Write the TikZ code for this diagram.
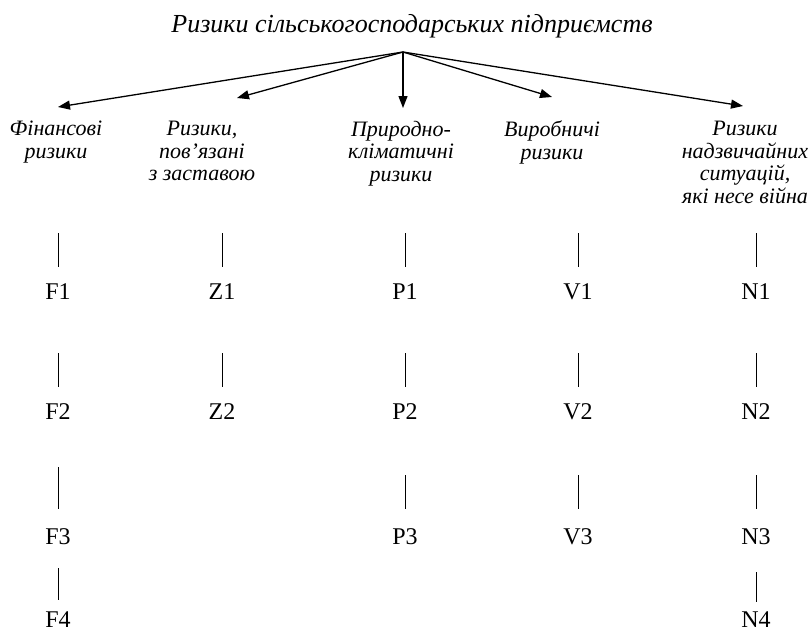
\documentclass[tikz,border=0pt]{standalone}
\usepackage{fontspec}
\setmainfont{Liberation Serif}
\usetikzlibrary{arrows.meta}
\begin{document}
\begin{tikzpicture}[x=1pt,y=-1pt,
  heading/.style={font=\fontsize{26}{30}\selectfont\itshape, inner sep=0pt},
  category/.style={font=\fontsize{22}{22.5}\selectfont\itshape, align=center, inner sep=0pt, anchor=north},
  code/.style={font=\fontsize{24}{26}\selectfont, inner sep=0pt},
  branch/.style={line width=1.3pt, -{Triangle[length=12pt,width=9pt]}},
  stem/.style={line width=1pt}]
\useasboundingbox (0,0) rectangle (812,633);

% heading and the point where the branches start
\node[heading, anchor=base] (title) at (412,32) {Ризики сільськогосподарських підприємств};
\coordinate (root) at (403,52);

% arrow tips above the groups
\coordinate (tF) at (58,107);
\coordinate (tZ) at (237,98);
\coordinate (tP) at (403,108);
\coordinate (tV) at (552,97);
\coordinate (tN) at (743,106);
\foreach \t in {tF,tZ,tP,tV,tN} \draw[branch] (root) -- (\t);

% risk groups
\node[category] (cF) at (56,121) {Фінансові\\ризики};
\node[category] (cZ) at (202,121) {Ризики,\\пов’язані\\з заставою};
\node[category] (cP) at (401,121) {Природно-\\кліматичні\\ризики};
\node[category] (cV) at (552,121) {Виробничі\\ризики};
\node[category] (cN) at (745,121) {Ризики\\надзвичайних\\ситуацій,\\які несе війна};

% codes of the individual risks
\node[code] (F1) at (58,292) {F1};
\node[code] (F2) at (58,412) {F2};
\node[code] (F3) at (58,537) {F3};
\node[code] (F4) at (58,620) {F4};
\node[code] (Z1) at (222,292) {Z1};
\node[code] (Z2) at (222,412) {Z2};
\node[code] (P1) at (405,292) {P1};
\node[code] (P2) at (405,412) {P2};
\node[code] (P3) at (405,537) {P3};
\node[code] (V1) at (578,292) {V1};
\node[code] (V2) at (578,412) {V2};
\node[code] (V3) at (578,537) {V3};
\node[code] (N1) at (756,292) {N1};
\node[code] (N2) at (756,412) {N2};
\node[code] (N3) at (756,537) {N3};
\node[code] (N4) at (756,620) {N4};

% short vertical strokes above each code
\foreach \n in {F1,F2,Z1,Z2,P1,P2,V1,V2,N1,N2}
  \draw[stem] ([yshift=17pt]\n.north) -- ++(0,-34);
\draw[stem] ([yshift=20pt]F3.north) -- ++(0,-42);
\foreach \n in {P3,V3,N3}
  \draw[stem] ([yshift=20pt]\n.north) -- ++(0,-34);
\draw[stem] ([yshift=12pt]F4.north) -- ++(0,-32);
\draw[stem] ([yshift=10pt]N4.north) -- ++(0,-30);
\end{tikzpicture}
\end{document}
